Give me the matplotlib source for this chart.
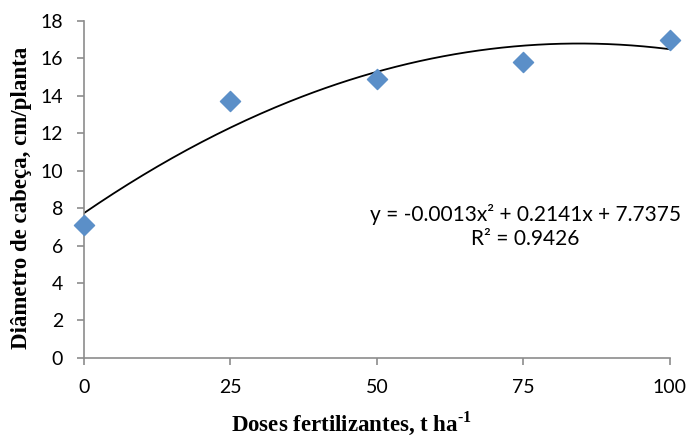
import numpy as np
import matplotlib
matplotlib.use("Agg")
import matplotlib.pyplot as plt

plt.rcParams["mathtext.fontset"] = "custom"
plt.rcParams["mathtext.rm"] = "Liberation Serif:bold"
plt.rcParams["mathtext.bf"] = "Liberation Serif:bold"

# doses and measured head diameter
doses = [0, 25, 50, 75, 100]
diametro = [7.1, 13.7, 14.9, 15.8, 17.0]
eq_text = "y = -0.0013x² + 0.2141x + 7.7375\nR² = 0.9426"

# quadratic trendline, same as the excel one
coef = np.polyfit(doses, diametro, 2)
xx = np.linspace(0, 100, 200)
yy = np.polyval(coef, xx)

fig = plt.figure(figsize=(6.9, 4.38), dpi=100)
ax = fig.add_axes([0.1217, 0.183, 0.849, 0.769])

ax.plot(xx, yy, color="black", lw=1.3, zorder=2)
ax.scatter(doses, diametro, marker="D", s=105, color="#5B8FC8", zorder=3, clip_on=False)

ax.set_xlim(0, 100)
ax.set_ylim(0, 18)
ax.set_xticks([0, 25, 50, 75, 100])
ax.set_yticks(range(0, 19, 2))

for s in ["top", "right"]:
    ax.spines[s].set_visible(False)
for s in ["left", "bottom"]:
    ax.spines[s].set_color("#8c8c8c")
    ax.spines[s].set_linewidth(1.2)

ax.tick_params(axis="y", direction="out", length=5, color="#8c8c8c", width=1.2,
               labelsize=14, pad=10)
ax.tick_params(axis="x", direction="out", length=5, color="#8c8c8c", width=1.2,
               labelsize=14, pad=10)
for lab in ax.get_xticklabels() + ax.get_yticklabels():
    lab.set_family("Lato")

ax.set_ylabel("Diâmetro de cabeça, cm/planta", family="Liberation Serif",
              fontweight="bold", fontsize=16.5)
ax.yaxis.set_label_coords(-0.088, 0.475)
ax.set_xlabel(r"Doses fertilizantes, t ha$^{\text{-1}}$", family="Liberation Serif",
              fontweight="bold", fontsize=16.5)
ax.xaxis.set_label_coords(0.457, -0.152)

ax.text(0.753, 0.39, eq_text, transform=ax.transAxes, ha="center", va="center",
        multialignment="center", family="Lato", fontsize=15, linespacing=1.3)

fig.savefig("out.png", dpi=100)
